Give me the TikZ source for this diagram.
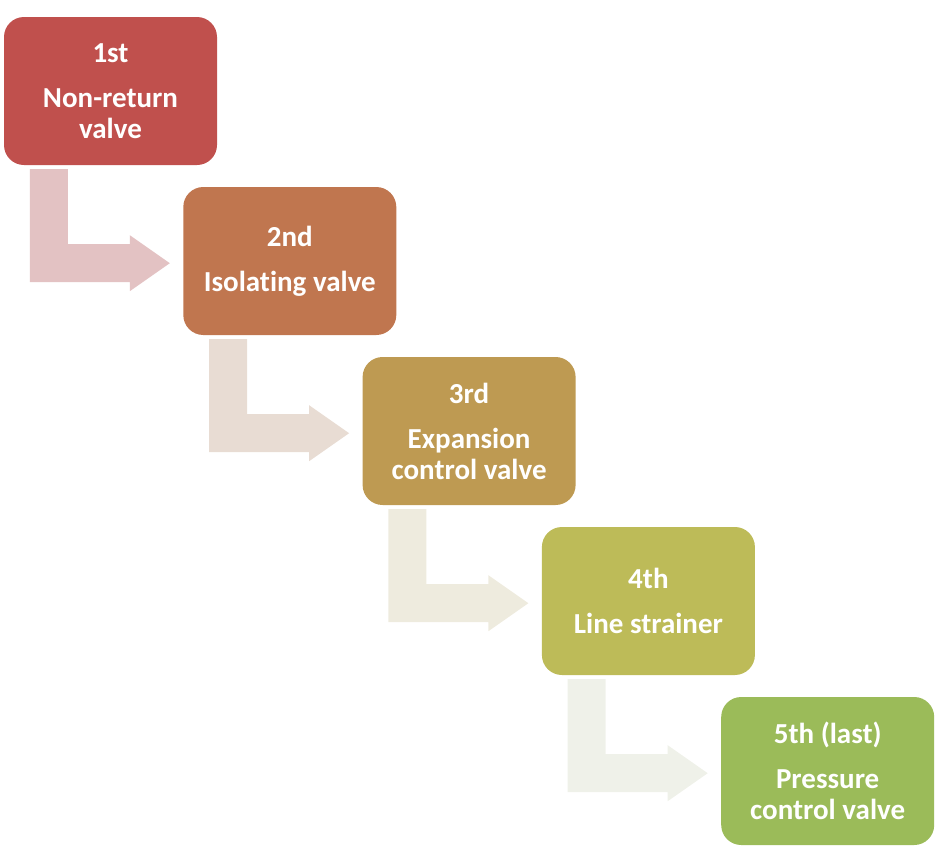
\documentclass[tikz,border=0pt]{standalone}
\usepackage{fontspec}
\setmainfont{Carlito}[Ligatures=NoCommon]
\definecolor{cA}{RGB}{192,80,77}
\definecolor{cB}{RGB}{192,118,79}
\definecolor{cC}{RGB}{190,154,82}
\definecolor{cD}{RGB}{189,187,88}
\definecolor{cE}{RGB}{155,187,89}
\definecolor{aA}{RGB}{227,194,195}
\definecolor{aB}{RGB}{232,220,211}
\definecolor{aC}{RGB}{238,235,222}
\definecolor{aD}{RGB}{239,241,233}
\tikzset{
  stepbox/.style={rectangle, rounded corners=20pt, minimum width=213pt, minimum height=148pt,
    inner sep=0pt, text=white, align=center, font=\fontsize{29}{31}\selectfont\bfseries},
}
\newcommand{\bentarrow}[2]{%
  \fill[#2] ([shift={(26,4)}]#1.south west) -- ++(38,0) -- ++(0,75) -- ++(62,0) -- ++(0,-9)
    -- ++(40,28) -- ++(-40,28) -- ++(0,-9) -- ++(-100,0) -- cycle;}
\begin{document}
\begin{tikzpicture}[x=1pt,y=-1pt]
\useasboundingbox (0,0) rectangle (938,863);
\node[stepbox, fill=cA] (b1) at (110.5,91) {1st\\[14pt]Non-return\\valve};
\node[stepbox, fill=cB] (b2) at (289.8,261) {2nd\\[14pt]Isolating valve};
\node[stepbox, fill=cC] (b3) at (469.1,431) {3rd\\[14pt]Expansion\\control valve};
\node[stepbox, fill=cD] (b4) at (648.4,601) {4th\\[14pt]Line strainer};
\node[stepbox, fill=cE] (b5) at (827.7,771) {5th (last)\\[14pt]Pressure\\control valve};
\bentarrow{b1}{aA}
\bentarrow{b2}{aB}
\bentarrow{b3}{aC}
\bentarrow{b4}{aD}
\end{tikzpicture}
\end{document}
